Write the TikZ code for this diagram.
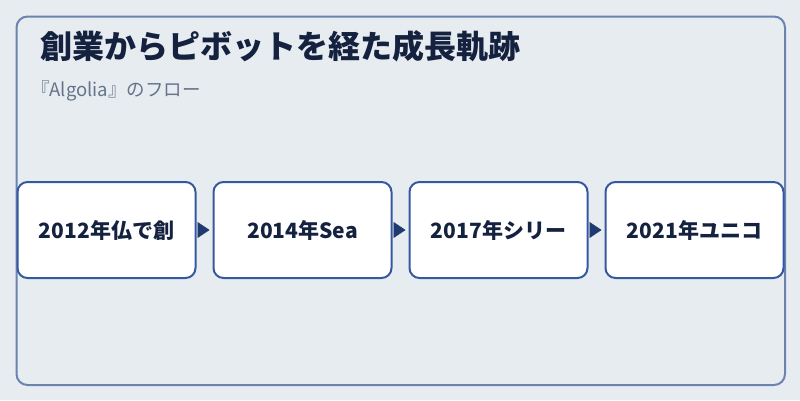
\documentclass[tikz,border=0pt]{standalone}
\usepackage{fontspec}
\setmainfont{Noto Sans CJK JP}
\usetikzlibrary{arrows.meta}
\definecolor{bg}{HTML}{E7ECF1}
\definecolor{frame}{HTML}{6B84AD}
\definecolor{boxline}{HTML}{3559A0}
\definecolor{navy}{HTML}{15223F}
\definecolor{sub}{HTML}{65748A}
\definecolor{arr}{HTML}{1F3A70}
\tikzset{
  stepbox/.style={draw=boxline, line width=2pt, fill=white, rounded corners=10pt,
    minimum width=178pt, minimum height=96pt, inner sep=0pt,
    font=\fontsize{21pt}{24pt}\selectfont\bfseries, text=navy},
  flowarrow/.style={draw=arr, line width=0.5pt, -{Triangle[length=12pt,width=16pt]}, fill=arr,
    shorten <=2pt, shorten >=3pt}
}
\begin{document}
\begin{tikzpicture}[x=1pt,y=-1pt]
\fill[bg] (0,0) rectangle (800,400);
\useasboundingbox (0,0) rectangle (800,400);
\draw[frame, line width=2pt, rounded corners=11pt] (16.5,16.5) rectangle (785,385);
\node[anchor=base west, text=navy, font=\fontsize{32pt}{36pt}\selectfont\bfseries, inner sep=0pt] (title) at (40,58.5) {創業からピボットを経た成長軌跡};
\node[anchor=base west, text=sub, font=\fontsize{18.5pt}{21pt}\selectfont, inner sep=0pt] (subtitle) at (31,96) {『Algolia』のフロー};
\node[stepbox] (b1) at (106.5,230) {2012年仏で創};
\node[stepbox] (b2) at (302.5,230) {2014年Sea};
\node[stepbox] (b3) at (498.5,230) {2017年シリー};
\node[stepbox] (b4) at (694.5,230) {2021年ユニコ};
\draw[flowarrow] (b1.east) -- (b2.west);
\draw[flowarrow] (b2.east) -- (b3.west);
\draw[flowarrow] (b3.east) -- (b4.west);
\end{tikzpicture}
\end{document}
